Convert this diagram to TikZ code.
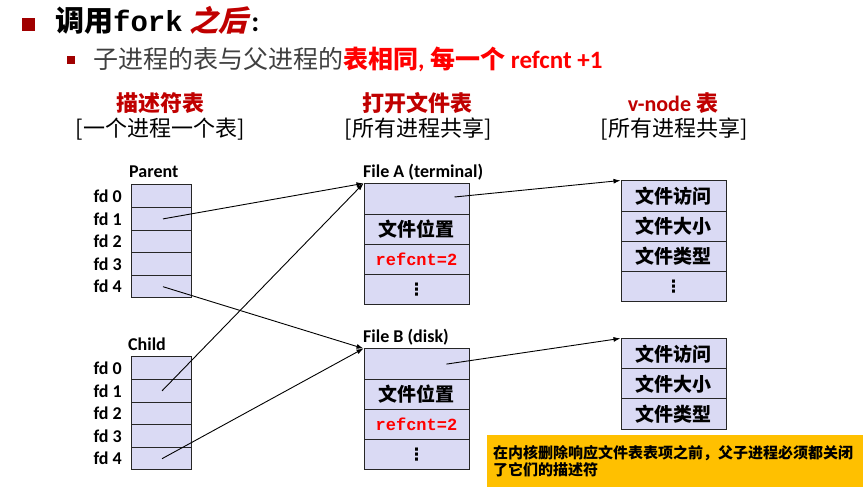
\documentclass[tikz,border=0pt]{standalone}
\usepackage{fontspec}
\setmainfont{Carlito}
\newfontfamily\cjk{Noto Sans CJK SC}
\newfontfamily\cjkit[FakeSlant=0.25]{Noto Sans CJK SC}
\newfontfamily\cour{Liberation Mono}
\newfontfamily\dejavu{DejaVu Sans}
\usetikzlibrary{arrows.meta}
\definecolor{cellfill}{RGB}{218,218,244}
\definecolor{darkred}{RGB}{192,0,0}
\definecolor{bulletred}{RGB}{160,0,0}
\definecolor{notefill}{RGB}{255,192,0}
\definecolor{subgray}{RGB}{64,64,64}

\begin{document}
\begin{tikzpicture}[x=1pt,y=-1pt,
    cell/.style={draw=black!85,line width=1pt,fill=cellfill,inner sep=0pt},
    fdcell/.style={cell,minimum width=60pt,minimum height=22.6pt},
    ftcell/.style={cell,minimum width=105pt,minimum height=30.2pt,font=\fontsize{19}{19}\selectfont\bfseries\cjk},
    dotcell/.style={ftcell,font=\fontsize{17}{17}\selectfont\bfseries\dejavu},
    lbl/.style={inner sep=0pt,font=\fontsize{18}{18}\selectfont\bfseries},
    hdr/.style={inner sep=0pt,text=darkred,font=\fontsize{22}{22}\selectfont\bfseries\cjk},
    subhdr/.style={inner sep=0pt,font=\fontsize{22}{22}\selectfont\cjk},
    link/.style={-{Latex[length=7pt,width=5pt]},line width=0.9pt}]
  \useasboundingbox (0,0) rectangle (863,494);

  % title lines
  \fill[bulletred] (22,18) rectangle (35,31);
  \node[anchor=base west,inner sep=0pt,font=\fontsize{29}{29}\selectfont\bfseries] (title) at (55,32)
    {{\cjk 调用}{\cour fork} {\cjkit\color{darkred}之后}\kern4pt:};
  \fill[bulletred] (67,56) rectangle (75,64);
  \node[anchor=base west,inner sep=0pt,font=\fontsize{25}{25}\selectfont] (sub) at (93,69)
    {{\color{subgray}\cjk 子进程的表与父进程的}{\color{red}\bfseries{\cjk 表相同}, {\cjk 每一个} refcnt +1}};

  % column headers
  \node[hdr] (h1) at (160,103) {描述符表};
  \node[subhdr] (s1) at (160,129) {[一个进程一个表]};
  \node[hdr] (h2) at (417,103) {打开文件表};
  \node[subhdr] (s2) at (418,129) {[所有进程共享]};
  \node[hdr] (h3) at (673,103) {{\rmfamily v-node} 表};
  \node[subhdr] (s3) at (674,129) {[所有进程共享]};

  % descriptor tables
  \node[lbl,anchor=base west] (parent) at (129,178) {Parent};
  \node[lbl,anchor=base west] (child) at (128,351) {Child};
  \foreach \i in {0,...,4} {
    \node[fdcell] (p\i) at (161,{196.3+22.6*\i}) {};
    \node[lbl,anchor=east] (pl\i) at (122,{196.3+22.6*\i}) {fd \i};
    \node[fdcell] (c\i) at (161,{368.3+22.6*\i}) {};
    \node[lbl,anchor=east] (cl\i) at (122,{368.3+22.6*\i}) {fd \i};
  }

  % open file table
  \node[lbl,anchor=base west] (fileA) at (363,178) {File A (terminal)};
  \node[ftcell] (fa1) at (416.5,199) {};
  \node[ftcell] (fa2) at (416.5,229.2) {文件位置};
  \node[ftcell,font=\fontsize{17}{17}\selectfont\bfseries\cour,text=red] (fa3) at (416.5,259.4) {refcnt=2};
  \node[dotcell] (fa4) at (416.5,289.6) {⋮};
  \node[lbl,anchor=base west] (fileB) at (363,343) {File B (disk)};
  \node[ftcell] (fb1) at (416.5,364.1) {};
  \node[ftcell] (fb2) at (416.5,394.3) {文件位置};
  \node[ftcell,font=\fontsize{17}{17}\selectfont\bfseries\cour,text=red] (fb3) at (416.5,424.5) {refcnt=2};
  \node[dotcell] (fb4) at (416.5,454.7) {⋮};

  % v-node table
  \foreach \t [count=\i] in {文件访问,文件大小,文件类型} {
    \node[ftcell] (va\i) at (673.5,{196.1+30.2*(\i-1)}) {\t};
    \node[ftcell] (vb\i) at (673.5,{354+30*(\i-1)}) {\t};
  }
  \node[dotcell] (va4) at (673.5,286.7) {⋮};

  % pointers
  \draw[link] ([xshift=2pt]p1.center) -- (fa1.north west);
  \draw[link] ([xshift=2pt]p4.center) -- (fb1.north west);
  \draw[link] ([xshift=1pt]c1.center) -- (fa1.north west);
  \draw[link] ([xshift=1pt]c4.center) -- (fb1.north west);
  \draw[link] ([xshift=38pt,yshift=2pt]fa1.center) -- (va1.north west);
  \draw[link] ([xshift=30pt]fb1.center) -- (vb1.north west);

  % note
  \node[fill=notefill,anchor=north west,minimum width=376pt,minimum height=52pt,
    inner xsep=6pt,inner ysep=0pt,text width=364pt,align=left,
    font=\fontsize{15}{17}\selectfont\bfseries\cjk] (note) at (487,435)
    {在内核删除响应文件表表项之前，父子进程必须都关闭\\了它们的描述符};
\end{tikzpicture}
\end{document}
